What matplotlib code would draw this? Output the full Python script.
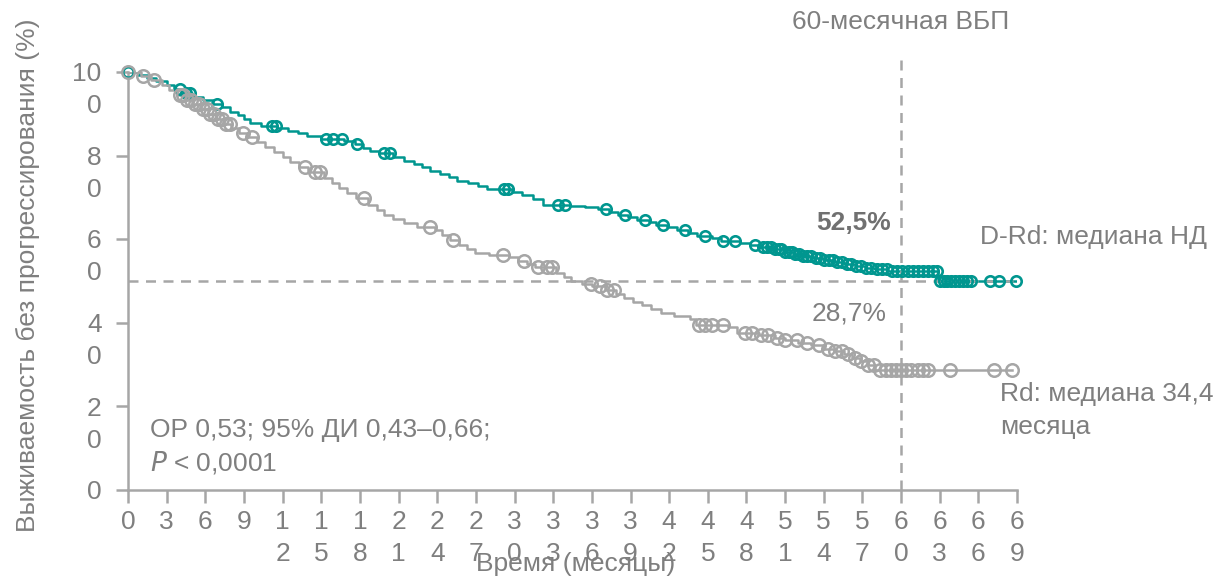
import matplotlib

matplotlib.use("Agg")
import matplotlib.pyplot as plt  # noqa: E402
import numpy as np  # noqa: E402

plt.rcParams["font.family"] = ["Liberation Sans", "DejaVu Sans"]

TEAL = "#00968F"
GREY_LINE = "#A6A6A6"
GREY_TEXT = "#7F7F7F"
FS = 19

# D-Rd arm: Kaplan-Meier steps (months, % progression-free)
drd_time = [0, 0.8, 1.5, 2.2, 3.0, 3.6, 4.3, 5.0, 5.8, 6.6, 7.3, 7.9, 8.5, 9.0,
            9.5, 10.3, 11.6, 12.4, 13.2, 13.9, 15.0, 16.8, 17.6, 18.2, 18.8,
            19.5, 20.6, 21.4, 22.2, 22.8, 23.4, 24.2, 24.9, 25.5, 26.4, 27.2,
            27.9, 29.8, 30.6, 31.4, 32.2, 34.3, 35.5, 36.5, 37.3, 38.0, 38.8,
            39.5, 40.4, 41.0, 41.8, 42.6, 43.5, 44.2, 45.3, 46.0, 47.5, 48.3,
            49.0, 50.0, 50.8, 51.6, 52.4, 53.2, 54.0, 54.8, 55.6, 56.4, 57.2,
            58.0, 59.0, 62.9, 69.0]
drd_surv = [100, 99.3, 98.6, 97.8, 96.9, 96.0, 95.0, 94.0, 93.3, 92.4, 91.6,
            90.4, 89.6, 88.8, 87.9, 87.0, 86.6, 86.0, 85.4, 84.8, 84.0, 83.4,
            82.8, 81.8, 81.2, 80.6, 79.6, 78.6, 77.9, 77.3, 76.2, 75.6, 74.9,
            74.0, 73.4, 72.8, 72.0, 71.3, 70.5, 69.7, 68.3, 68.0, 67.6, 67.2,
            66.6, 65.8, 65.2, 64.6, 64.0, 63.5, 62.9, 62.2, 61.5, 60.8, 60.3,
            59.6, 59.0, 58.5, 58.1, 57.6, 57.0, 56.5, 56.0, 55.6, 55.1, 54.6,
            54.1, 53.6, 53.2, 52.8, 52.5, 50.0, 50.0]
drd_censor = [0, 4.0, 4.5, 4.8, 6.9, 11.2, 11.5, 15.4, 15.9, 16.6, 17.8, 19.9,
              20.3, 29.2, 29.5, 33.4, 33.9, 37.1, 38.6, 40.1, 41.5, 43.2, 44.8,
              46.2, 47.1, 48.7, 49.3, 49.6, 49.9, 50.2, 50.5, 50.7, 51.0, 51.3,
              51.5, 51.8, 52.1, 52.4, 52.7, 53.0, 53.4, 53.7, 54.0, 54.4, 54.7,
              55.0, 55.4, 55.8, 56.1, 56.5, 56.9, 57.3, 57.7, 58.1, 58.5, 58.9,
              59.3, 59.7, 60.1, 60.5, 60.9, 61.3, 61.7, 62.1, 62.5, 62.8, 63.0,
              63.3, 63.6, 63.9, 64.2, 64.5, 64.8, 65.1, 65.4, 66.9, 67.6, 68.9]

# Rd arm
rd_time = [0, 1.0, 1.8, 2.6, 3.2, 3.8, 4.4, 5.0, 5.6, 6.2, 6.8, 7.4, 8.0, 8.6,
           9.2, 10.0, 10.6, 11.3, 12.0, 12.6, 13.3, 14.0, 15.2, 15.8, 16.4,
           17.0, 17.7, 18.6, 19.3, 19.9, 20.6, 21.4, 22.4, 23.8, 24.4, 25.0,
           25.7, 26.3, 26.9, 28.0, 29.6, 30.3, 31.0, 31.6, 33.2, 33.8, 34.4,
           35.2, 36.0, 37.0, 37.9, 38.5, 39.2, 39.9, 40.6, 41.4, 42.4, 43.6,
           44.1, 46.6, 47.3, 49.0, 50.2, 51.0, 52.0, 53.0, 54.0, 54.8, 55.6,
           56.2, 56.8, 57.4, 58.0, 68.6]
rd_surv = [100, 99.0, 98.0, 96.8, 95.6, 94.6, 93.4, 92.4, 91.2, 90.0, 88.8,
           87.6, 86.6, 85.5, 84.4, 83.2, 82.0, 80.8, 79.6, 78.4, 77.2, 76.0,
           74.6, 73.4, 72.2, 71.0, 69.8, 68.2, 67.0, 65.9, 64.8, 63.9, 63.0,
           62.2, 61.0, 59.8, 58.7, 57.6, 56.8, 56.2, 55.7, 54.9, 54.1, 53.4,
           52.0, 51.0, 50.0, 49.3, 48.7, 47.8, 46.9, 46.0, 45.0, 44.2, 43.4,
           42.4, 41.6, 41.0, 39.5, 38.9, 37.6, 37.0, 36.4, 35.8, 35.2, 34.6,
           33.8, 33.2, 32.6, 31.6, 30.8, 29.8, 28.7, 28.7]
rd_censor = [0, 1.2, 2.0, 4.0, 4.3, 4.6, 4.9, 5.2, 5.5, 5.8, 6.1, 6.4, 6.7, 7.0,
             7.3, 7.6, 7.9, 8.9, 9.6, 13.7, 14.5, 14.9, 18.3, 23.4, 25.2, 29.1,
             30.7, 31.8, 32.5, 32.9, 35.9, 36.6, 37.2, 37.7, 44.3, 44.8, 45.3,
             46.2, 47.9, 48.4, 49.1, 49.7, 50.4, 51.0, 51.9, 52.7, 53.6, 54.3,
             54.9, 55.4, 55.9, 56.4, 56.9, 57.4, 57.9, 58.4, 58.8, 59.2, 59.6,
             60.0, 60.4, 60.8, 61.3, 61.7, 62.1, 63.8, 67.2, 68.6]

x_ticks = [0, 3, 6, 9, 12, 15, 18, 21, 24, 27, 30, 33, 36, 39, 42, 45, 48, 51,
           54, 57, 60, 63, 66, 69]
x_tick_labels = ["0", "3", "6", "9", "1\n2", "1\n5", "1\n8", "2\n1", "2\n4",
                 "2\n7", "3\n0", "3\n3", "3\n6", "3\n9", "4\n2", "4\n5", "4\n8",
                 "5\n1", "5\n4", "5\n7", "6\n0", "6\n3", "6\n6", "6\n9"]
y_ticks = [0, 20, 40, 60, 80, 100]
y_tick_labels = ["0", "2\n0", "4\n0", "6\n0", "8\n0", "10\n0"]

landmark_month = 60
median_line = 50


def at_time(times, surv, when):
    """Value of a post-step curve at the given times."""
    idx = np.searchsorted(times, when, side="right") - 1
    return np.asarray(surv)[idx]


fig = plt.figure(figsize=(12.18, 5.76), dpi=100)
ax = fig.add_axes([0.1051, 0.1493, 0.7299, 0.7257])

# reference lines
ax.plot([0, 69], [median_line, median_line], ls=(0, (4, 3)), color=GREY_LINE,
        lw=1.8, zorder=3)
ax.plot([landmark_month, landmark_month], [0, 104], ls=(0, (4, 3)),
        color=GREY_LINE, lw=1.8, clip_on=False, zorder=3)

# curves
ax.step(drd_time, drd_surv, where="post", color=TEAL, lw=1.8, zorder=2)
ax.plot(drd_censor, at_time(drd_time, drd_surv, drd_censor), "o",
        mfc="none", mec=TEAL, ms=7.5, mew=1.9, zorder=4, clip_on=False)
ax.step(rd_time, rd_surv, where="post", color=GREY_LINE, lw=1.8, zorder=2)
ax.plot(rd_censor, at_time(rd_time, rd_surv, rd_censor), "o",
        mfc="none", mec=GREY_LINE, ms=9, mew=1.8, zorder=4, clip_on=False)

ax.set_xlim(0, 69)
ax.set_ylim(0, 100)
for side in ("top", "right"):
    ax.spines[side].set_visible(False)
for side in ("left", "bottom"):
    ax.spines[side].set_color(GREY_LINE)
    ax.spines[side].set_linewidth(1.8)

ax.set_xticks(x_ticks, x_tick_labels)
ax.set_yticks(y_ticks, [""] * len(y_ticks))
ax.tick_params(colors=GREY_LINE, width=1.8, length=9, labelcolor=GREY_TEXT,
               labelsize=FS)
ax.tick_params(axis="x", pad=5.5)
for lbl in ax.get_xticklabels():
    lbl.set_linespacing(1.42)

# y tick labels: first line level with the tick
for val, txt in zip(y_ticks, y_tick_labels):
    ax.annotate(txt, xy=(0, val), xycoords=("axes fraction", "data"),
                xytext=(-19, 7), textcoords="offset points", ha="right",
                va="top", fontsize=FS, color=GREY_TEXT, linespacing=1.42)

# the reference squeezes the axis title against the tick labels
ax.set_xlabel("Время (месяцы)", fontsize=FS, color=GREY_TEXT, va="center")
ax.xaxis.set_label_coords(0.503, -0.178)
ax.set_ylabel("Выживаемость без прогрессирования (%)", fontsize=FS,
              color=GREY_TEXT, va="center")
ax.yaxis.set_label_coords(-0.1125, 0.514)

ax.text(landmark_month, 112, "60-месячная ВБП", ha="center", va="center",
        fontsize=FS, color=GREY_TEXT, clip_on=False)
ax.text(59.2, 63.9, "52,5%", ha="right", va="center", fontsize=FS,
        fontweight="bold", color="#707070")
ax.text(58.9, 42.3, "28,7%", ha="right", va="center", fontsize=FS,
        color=GREY_TEXT)
ax.text(66.1, 60.5, "D-Rd: медиана НД", ha="left", va="center", fontsize=FS,
        color=GREY_TEXT, clip_on=False)
ax.text(67.7, 25.8, "Rd: медиана 34,4\nмесяца", ha="left", va="top",
        fontsize=FS, color=GREY_TEXT, clip_on=False, linespacing=1.45)
ax.text(1.7, 14.4, "ОР 0,53; 95% ДИ 0,43–0,66;", ha="left", va="center",
        fontsize=FS, color=GREY_TEXT)
ax.text(1.7, 6.5, "$\\mathit{P}$ < 0,0001", ha="left", va="center",
        fontsize=FS, color=GREY_TEXT)

fig.savefig("out.png", dpi=100)
